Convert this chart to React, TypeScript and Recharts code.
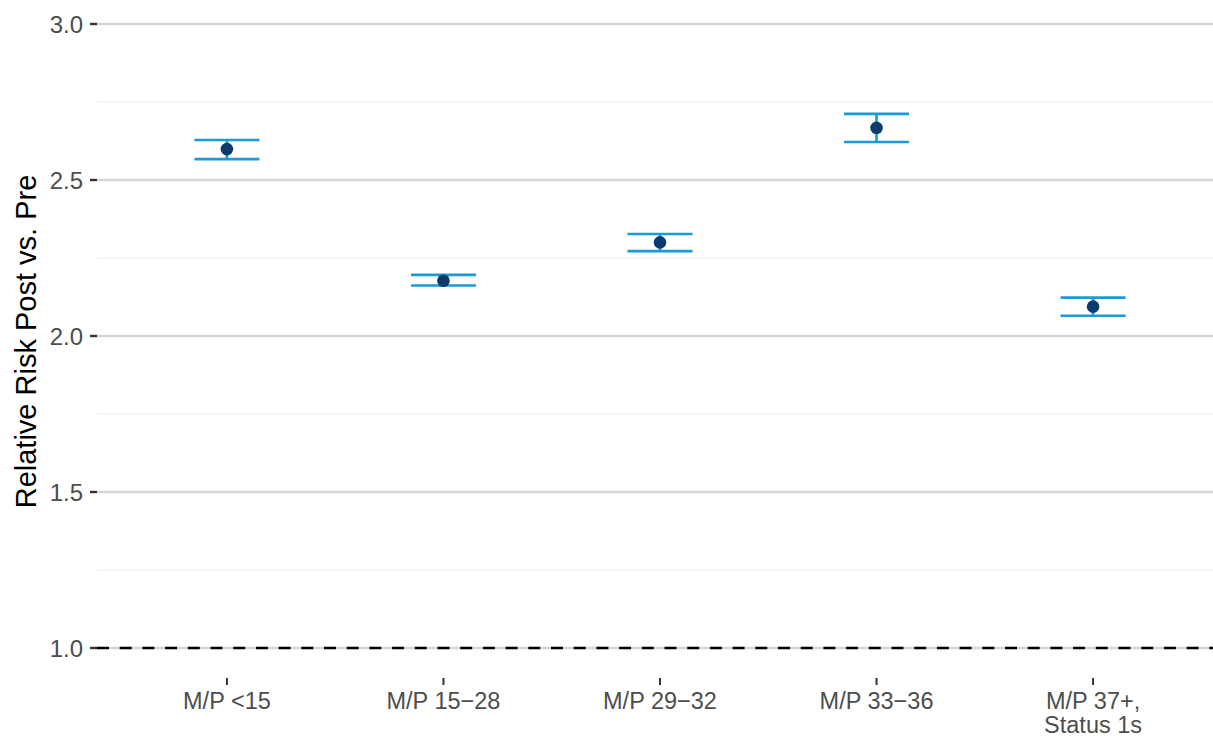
import React from 'react';
import { ComposedChart, Scatter, ErrorBar, XAxis, YAxis, ReferenceLine } from 'recharts';

const categories = ['M/P <15', 'M/P 15−28', 'M/P 29−32', 'M/P 33−36', 'M/P 37+,\nStatus 1s'];
const estimates = [2.599, 2.177, 2.3, 2.667, 2.094];
const lower = [2.567, 2.162, 2.272, 2.622, 2.065];
const upper = [2.628, 2.196, 2.327, 2.712, 2.123];
const yTicks = [1, 1.5, 2, 2.5, 3];
const majorGrid = [1, 1.5, 2, 2.5, 3];
const minorGrid = [1.25, 1.75, 2.25, 2.75];

const data = categories.map((name, i) => ({
  x: i + 1,
  name,
  rr: estimates[i],
  err: [estimates[i] - lower[i], upper[i] - estimates[i]],
}));

const TEXT = '#4D4D4D';
const BLUE = '#1A9BD7';
const NAVY = '#0B3B6D';

const XTick = (props: any) => {
  const { x, y, payload } = props;
  const lines = categories[payload.value - 1].split('\n');
  return (
    <text x={x} y={y} textAnchor="middle" fill={TEXT} fontSize={23.5}>
      {lines.map((l, i) => (
        <tspan key={i} x={x} dy={i === 0 ? 21.5 : 24.5}>
          {l}
        </tspan>
      ))}
    </text>
  );
};

const YTitle = (props: any) => {
  const { viewBox } = props;
  const cx = 26;
  const cy = viewBox.y + viewBox.height / 2;
  return (
    <text
      x={cx}
      y={cy}
      transform={`rotate(-90, ${cx}, ${cy})`}
      textAnchor="middle"
      dominantBaseline="central"
      fontSize={29}
      fill="#000"
    >
      Relative Risk Post vs. Pre
    </text>
  );
};

export default function App() {
  return (
    <div
      style={{
        position: 'fixed',
        left: 0,
        top: 0,
        width: 1213,
        height: 736,
        overflow: 'hidden',
        background: '#fff',
        fontFamily: '"Liberation Sans", Arial, sans-serif',
      }}
    >
      <ComposedChart width={1223} height={736} data={data} margin={{ top: 5, right: 0, bottom: 0, left: 0 }}>
        {minorGrid.map((v) => (
          <ReferenceLine key={'m' + v} y={v} stroke="#EBEBEB" strokeWidth={1.1} />
        ))}
        {majorGrid.map((v) => (
          <ReferenceLine key={'M' + v} y={v} stroke="#D6D6D6" strokeWidth={2.4} />
        ))}
        <ReferenceLine y={1} stroke="#000" strokeWidth={2.6} strokeDasharray="12 10.7" />
        <XAxis
          type="number"
          dataKey="x"
          domain={[0.4, 5.6]}
          ticks={[1, 2, 3, 4, 5]}
          interval={0}
          axisLine={false}
          tickLine={{ stroke: '#333', strokeWidth: 2 }}
          tickSize={7}
          tickMargin={2}
          height={58}
          tick={<XTick />}
          allowDataOverflow
        />
        <YAxis
          type="number"
          domain={[0.9038, 3.0609]}
          ticks={yTicks}
          interval={0}
          allowDataOverflow
          axisLine={false}
          tickLine={{ stroke: '#333', strokeWidth: 2.4 }}
          tickSize={7}
          tickMargin={7}
          width={97}
          tick={{ fill: TEXT, fontSize: 24 }}
          tickFormatter={(v: number) => v.toFixed(1)}
          label={<YTitle />}
        />
        <Scatter
          dataKey="rr"
          isAnimationActive={false}
          shape={(p: any) => <circle cx={p.cx} cy={p.cy} r={6.3} fill={NAVY} />}
        >
          <ErrorBar dataKey="err" direction="y" width={32.5} stroke={BLUE} strokeWidth={2.6} />
        </Scatter>
      </ComposedChart>
    </div>
  );
}
